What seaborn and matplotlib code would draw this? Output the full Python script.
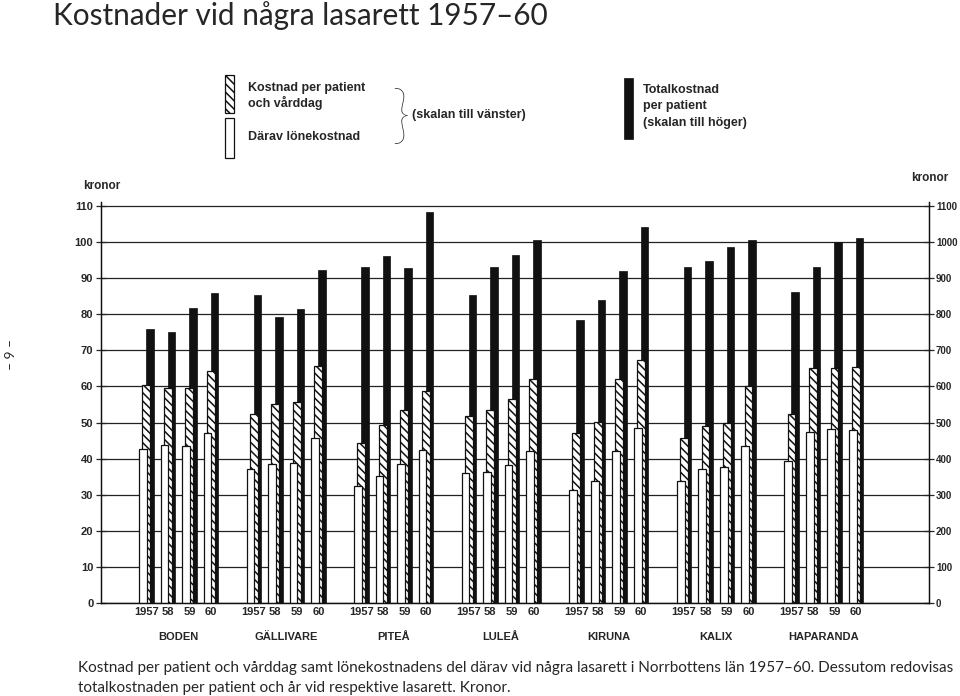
import matplotlib
matplotlib.use("Agg")
import matplotlib.pyplot as plt
from matplotlib.patches import Rectangle
import matplotlib.transforms as mtransforms
import seaborn as sns
import pandas as pd
import numpy as np

# ---------------- data ----------------
hospitals = ["BODEN", "GÄLLIVARE", "PITEÅ", "LULEÅ", "KIRUNA", "KALIX", "HAPARANDA"]
years = ["1957", "58", "59", "60"]

# Kostnad per patient och vårddag (kr, left scale)
per_day = [
    60.3, 59.5, 59.5, 64.3,   # Boden
    52.5, 55.1, 55.6, 65.6,   # Gällivare
    44.2, 49.2, 53.4, 58.6,   # Piteå
    51.8, 53.4, 56.4, 62.1,   # Luleå
    47.1, 50.2, 62.1, 67.3,   # Kiruna
    45.6, 49.0, 49.9, 60.2,   # Kalix
    52.4, 65.1, 65.1, 65.4,   # Haparanda
]
# Därav lönekostnad (kr, left scale)
wage = [
    42.8, 43.8, 43.5, 47.1,
    37.0, 38.5, 38.9, 45.7,
    32.4, 35.3, 38.5, 42.3,
    35.9, 36.3, 38.3, 42.1,
    31.3, 33.7, 42.2, 48.4,
    33.9, 37.0, 37.6, 43.4,
    39.3, 47.4, 48.2, 47.9,
]
# Totalkostnad per patient (kr, right scale)
total = [
    760, 750, 818, 858,
    854, 792, 814, 923,
    931, 961, 927, 1082,
    854, 932, 963, 1006,
    784, 839, 921, 1042,
    930, 947, 987, 1007,
    862, 931, 1001, 1012,
]

left_ticks = list(range(0, 111, 10))
right_ticks = list(range(0, 1101, 100))

# ---------------- table ----------------
rows = []
for g, h in enumerate(hospitals):
    for k, y in enumerate(years):
        rows.append({"hospital": h, "year": y, "slot": g * 5 + k})
df = pd.DataFrame(rows)
df["per_day"] = per_day
df["wage"] = wage
df["total"] = total
df["x_wage"] = df["slot"] - 0.15
df["x_day"] = df["slot"] + 0.0
df["x_total"] = df["slot"] + 0.17

sns.set_style("white")
plt.rcParams["font.family"] = ["Liberation Sans", "DejaVu Sans"]
plt.rcParams["hatch.linewidth"] = 1.1

fig = plt.figure(figsize=(9.6, 6.96), dpi=100)
ax = fig.add_axes([101 / 960, 1 - 603 / 696, (929 - 101) / 960, (603 - 202) / 696])
ax2 = ax.twinx()
ax.set_zorder(ax2.get_zorder() + 1)
ax.patch.set_visible(False)

# black bars (right scale), behind
sns.barplot(data=df, x="x_total", y="total", native_scale=True, ax=ax2,
            color="#111111", saturation=1, width=0.36, errorbar=None,
            edgecolor="#111111", linewidth=0.5)
# hatched bars
sns.barplot(data=df, x="x_day", y="per_day", native_scale=True, ax=ax,
            color="white", saturation=1, width=0.36, errorbar=None,
            edgecolor="#111111", linewidth=0.9, hatch="\\\\\\\\")
# white bars in front
sns.barplot(data=df, x="x_wage", y="wage", native_scale=True, ax=ax,
            color="white", saturation=1, width=0.36, errorbar=None,
            edgecolor="#111111", linewidth=0.9)

xmin, xmax = -2.107, 36.40
ax.set_xlim(xmin, xmax)
ax.set_ylim(0, 111.1)
ax2.set_ylim(0, 1111)

ax2.set_yticks(right_ticks)
ax2.set_yticklabels([str(t) for t in right_ticks])
ax.set_yticks(left_ticks)
ax.set_yticklabels([str(t) for t in left_ticks])
ax2.yaxis.grid(True, color="#222222", linewidth=0.9)
ax2.set_axisbelow(True)
ax.grid(False)

ax.set_xticks(df["slot"].tolist())
ax.set_xticklabels(df["year"].tolist())
ax.tick_params(axis="x", length=0, pad=3, labelsize=8)
for t in ax.get_xticklabels():
    t.set_fontweight("bold")
ax.tick_params(axis="y", direction="inout", length=7, width=0.9, pad=2, labelsize=8)
ax2.tick_params(axis="y", direction="inout", length=7, width=0.9, pad=1.5, labelsize=7)
for t in ax.get_yticklabels() + ax2.get_yticklabels():
    t.set_fontweight("bold")

for a in (ax, ax2):
    a.set_xlabel("")
    a.set_ylabel("")
    a.spines["top"].set_visible(False)
    for s in ("left", "right", "bottom"):
        a.spines[s].set_color("#111111")
        a.spines[s].set_linewidth(0.9)

trans = mtransforms.blended_transform_factory(ax.transData, ax.transAxes)
for g, h in enumerate(hospitals):
    ax.text(g * 5 + 1.5, -34 / 401, h, transform=trans, ha="center", va="center",
            fontsize=8, fontweight="bold")

# axis unit labels
fig.text(102 / 960, 1 - 186 / 696, "kronor", ha="center", va="center",
         fontsize=8.5, fontweight="bold")
fig.text(930 / 960, 1 - 178 / 696, "kronor", ha="center", va="center",
         fontsize=8.5, fontweight="bold")

# ---------------- legend ----------------
def frect(x0, y0, x1, y1, **kw):
    fig.add_artist(Rectangle((x0 / 960, 1 - y1 / 696), (x1 - x0) / 960, (y1 - y0) / 696,
                             transform=fig.transFigure, **kw))

frect(225, 75, 234, 113, facecolor="white", edgecolor="#111111", lw=0.9, hatch="\\\\\\\\")
frect(225, 118, 234, 158, facecolor="white", edgecolor="#111111", lw=0.9)
frect(624, 78, 633, 139, facecolor="#111111", edgecolor="#111111", lw=0.5)

fig.text(248 / 960, 1 - 88 / 696, "Kostnad per patient", ha="left", va="center",
         fontsize=9, fontweight="bold")
fig.text(248 / 960, 1 - 103 / 696, "och vårddag", ha="left", va="center",
         fontsize=9, fontweight="bold")
fig.text(248 / 960, 1 - 137 / 696, "Därav lönekostnad", ha="left", va="center",
         fontsize=9, fontweight="bold")
fig.text(401 / 960, 1 - 119 / 696, "}", ha="center", va="center",
         fontsize=46, family=["Lato", "DejaVu Sans"], fontweight="light")
fig.text(412 / 960, 1 - 115 / 696, "(skalan till vänster)", ha="left", va="center",
         fontsize=9, fontweight="bold")
fig.text(643 / 960, 1 - 90 / 696, "Totalkostnad", ha="left", va="center",
         fontsize=9, fontweight="bold")
fig.text(643 / 960, 1 - 106 / 696, "per patient", ha="left", va="center",
         fontsize=9, fontweight="bold")
fig.text(643 / 960, 1 - 123 / 696, "(skalan till höger)", ha="left", va="center",
         fontsize=9, fontweight="bold")

# ---------------- title, caption, page number ----------------
fig.text(53 / 960, 1 - 16 / 696, "Kostnader vid några lasarett 1957–60", ha="left", va="center",
         fontsize=21.4, family=["Lato", "DejaVu Sans"])
fig.text(78 / 960, 1 - 668 / 696,
         "Kostnad per patient och vårddag samt lönekostnadens del därav vid några lasarett i Norrbottens län 1957–60. Dessutom redovisas",
         ha="left", va="center", fontsize=11, family=["Lato", "DejaVu Sans"])
fig.text(78 / 960, 1 - 688 / 696,
         "totalkostnaden per patient och år vid respektive lasarett. Kronor.",
         ha="left", va="center", fontsize=11, family=["Lato", "DejaVu Sans"])
fig.text(11 / 960, 1 - 355 / 696, "– 9 –", ha="center", va="center", rotation=90,
         fontsize=10, family=["Lato", "DejaVu Sans"])

fig.savefig("out.png", dpi=100)
